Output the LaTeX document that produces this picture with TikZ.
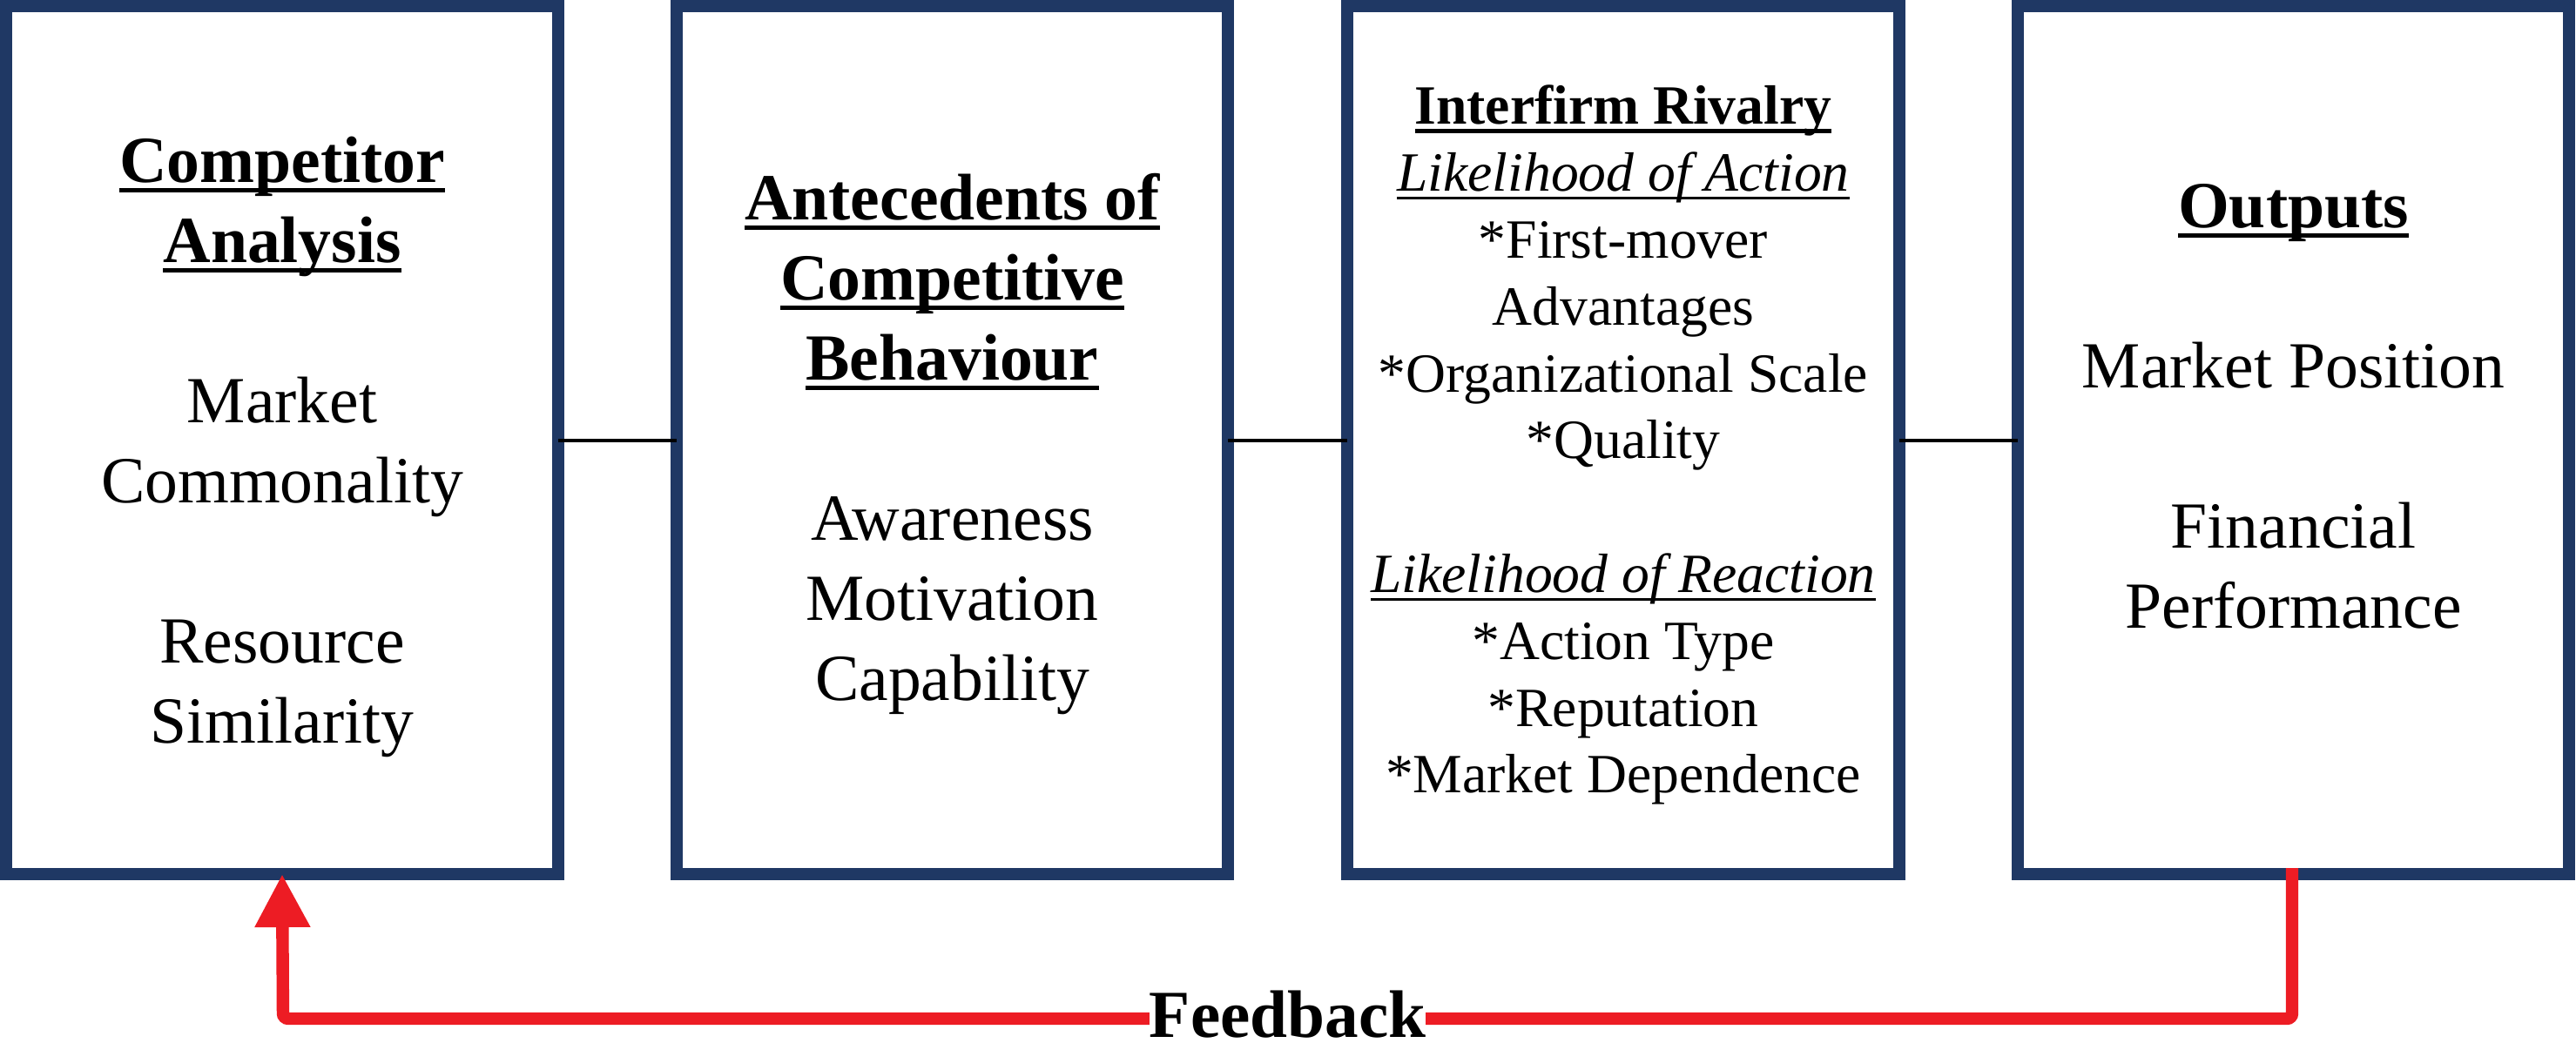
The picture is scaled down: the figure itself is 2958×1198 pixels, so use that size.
\documentclass[tikz,border=0pt]{standalone}
\usepackage{fontspec}
\setmainfont{Liberation Serif}
\usetikzlibrary{arrows.meta,calc}
\definecolor{navy}{RGB}{31,56,100}
\definecolor{fbred}{RGB}{237,28,36}
\newsavebox\ulsave
\newcommand\ulbox[3]{\sbox\ulsave{#3}\rlap{\rule[-#1]{\wd\ulsave}{#2}}\usebox\ulsave}
\tikzset{
  box/.style={draw=navy, line width=3.5pt, minimum width=158.4pt, minimum height=249.25pt, inner sep=0pt, outer sep=0pt},
  txt/.style={align=center, anchor=north, inner sep=0pt, font=\fontsize{18.9}{23}\selectfont},
  txtsm/.style={align=center, anchor=north, inner sep=0pt, font=\fontsize{15.9}{19.2}\selectfont},
  conn/.style={line width=1pt, black},
  fbline/.style={draw=fbred, line width=3.6pt, rounded corners=1.5pt, -{Triangle[width=15pt,length=15.25pt]}},
  fblabel/.style={fill=white, inner sep=0pt, anchor=base, font=\fontsize{19.3}{23}\selectfont\bfseries}
}
\begin{document}
\begin{tikzpicture}[x=0.25pt,y=-0.25pt]
\useasboundingbox (0,0) rectangle (2958,1198);
% boxes
\node[box] (b1) at (324,505.5) {};
\node[box] (b2) at (1093.5,505.5) {};
\node[box] (b3) at (1864,505.5) {};
\node[box] (b4) at (2633.5,505.5) {};
% texts
\node[txt] (t1) at (324,145) {\rule{0pt}{16pt}\ulbox{2.75pt}{1.25pt}{\bfseries Competitor}\\\ulbox{2.75pt}{1.25pt}{\bfseries Analysis}\\[23pt]Market\\Commonality\\[23pt]Resource\\Similarity};
\node[txt] (t2) at (1093.5,188) {\rule{0pt}{16pt}\ulbox{2.75pt}{1.25pt}{\bfseries Antecedents of}\\\ulbox{2.75pt}{1.25pt}{\bfseries Competitive}\\\ulbox{2.75pt}{1.25pt}{\bfseries Behaviour}\\[23pt]Awareness\\Motivation\\Capability};
\node[txtsm] (t3) at (1864,88) {\rule{0pt}{13.5pt}\ulbox{2.5pt}{1.1pt}{\bfseries Interfirm Rivalry}\\\ulbox{2.4pt}{0.75pt}{\itshape Likelihood of Action}\\{*}First-mover\\Advantages\\{*}Organizational Scale\\{*}Quality\\[19.2pt]\ulbox{2.4pt}{0.75pt}{\itshape Likelihood of Reaction}\\{*}Action Type\\{*}Reputation\\{*}Market Dependence};
\node[txt] (t4) at (2633.5,197) {\rule{0pt}{16pt}\ulbox{2.75pt}{1.25pt}{\bfseries Outputs}\\[23pt]Market Position\\[23pt]Financial\\Performance};
% connectors
\draw[conn] (b1.east) -- (b2.west);
\draw[conn] (b2.east) -- (b3.west);
\draw[conn] (b3.east) -- (b4.west);
% feedback
\coordinate (fbR) at (2632,1170);
\coordinate (fbL) at (325,1170);
\coordinate (fbS) at (2632,997);
\draw[fbline] (fbS) -- (fbR) -- (fbL) -- (b1.south);
\node[fblabel] (fb) at ($(fbL)!0.5!(fbR)+(0,21)$) {Feedback};
\end{tikzpicture}
\end{document}
